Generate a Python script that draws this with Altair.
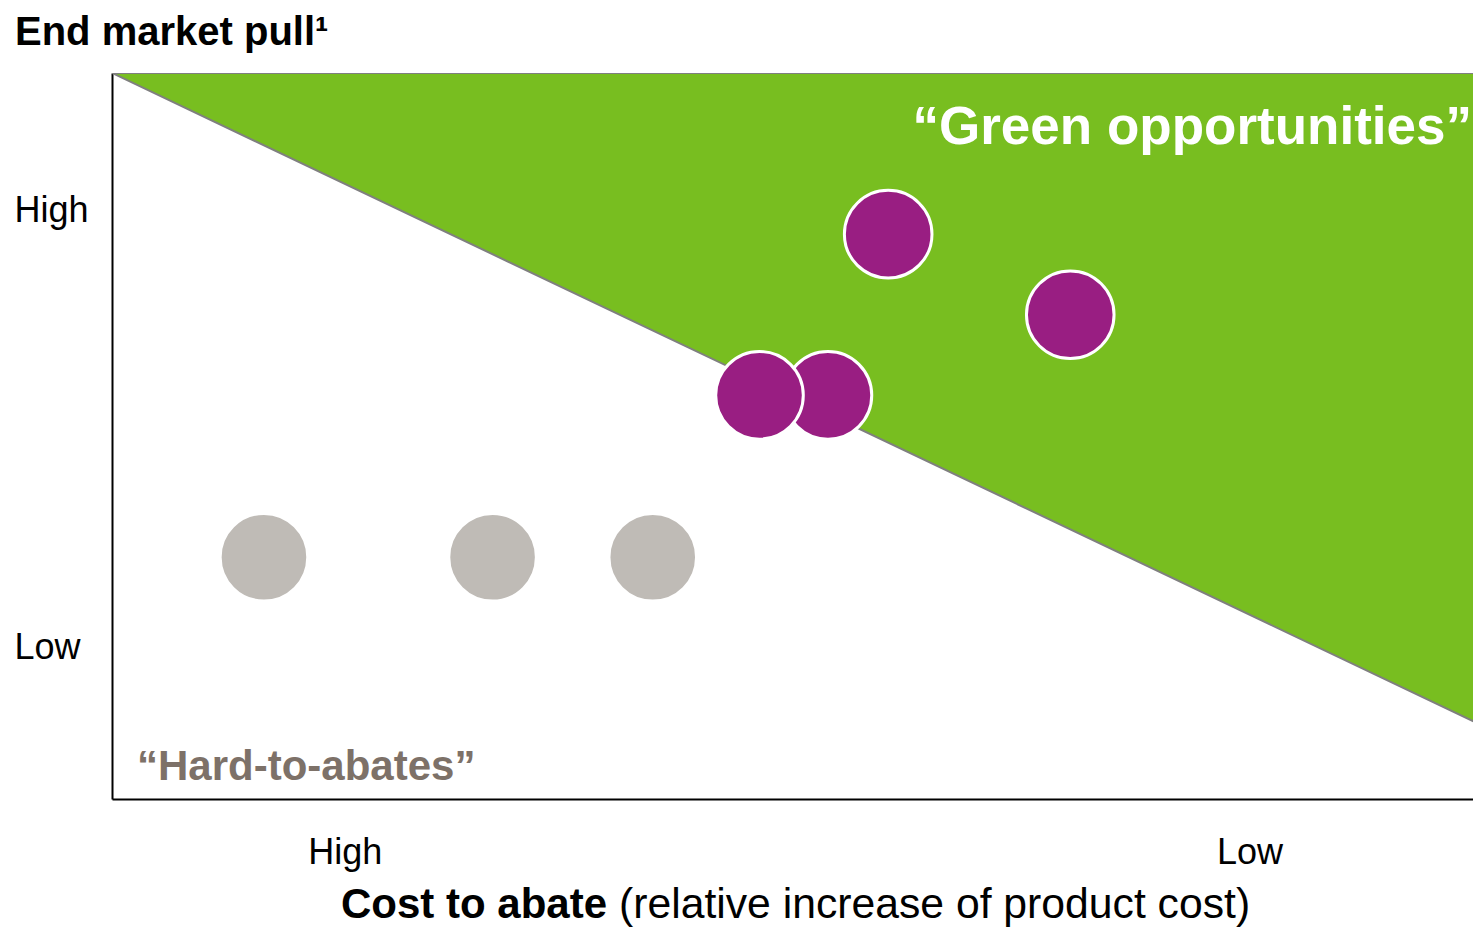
import altair as alt
import pandas as pd

# ---- data ----
point_x = [11.1, 27.8, 39.5, 56.7, 70.0, 52.3, 47.3]
point_y = [33.3, 33.3, 33.3, 77.8, 66.7, 55.6, 55.6]
point_group = ["hard", "hard", "hard", "green", "green", "green", "green"]

boundary_x = [0, 100]
boundary_y = [100, 10.2]

x_tick_values = [17.0, 83.1]
x_tick_labels = ["High", "Low"]
y_tick_values = [20.8, 81.1]
y_tick_labels = ["Low", "High"]

title_text = ["End market pull\u00b9"]
xtitle_bold = ["Cost to abate"]
xtitle_regular = ["(relative increase of product cost)"]
green_label = ["\u201cGreen opportunities\u201d"]
hard_label = ["\u201cHard-to-abates\u201d"]

FONT = "Liberation Sans"
GREEN = "#78BE20"
PURPLE = "#991E82"
GREY = "#BFBBB6"
TAUPE = "#7D7168"

pts = pd.DataFrame({"x": point_x, "y": point_y, "g": point_group})
bnd = pd.DataFrame({"x": boundary_x, "y": boundary_y, "top": [100, 100]})

xscale = alt.Scale(domain=[0, 99.42], nice=False, zero=False)
yscale = alt.Scale(domain=[0, 100], nice=False, zero=False)

def lab_expr(vals, labs):
    parts = []
    for v, l in zip(vals, labs):
        parts.append(f"abs(datum.value - {v}) < 0.01 ? '{l}'")
    return " : ".join(parts) + " : ''"

xaxis = alt.Axis(values=x_tick_values, labelExpr=lab_expr(x_tick_values, x_tick_labels),
                 title=None, grid=False, ticks=False, tickSize=0, domain=True,
                 domainColor="#000000", domainWidth=2, labelFontSize=36, labelFont=FONT,
                 labelColor="#000000", labelPadding=36, labelAngle=0, labelFlush=False)
yaxis = alt.Axis(values=y_tick_values, labelExpr=lab_expr(y_tick_values, y_tick_labels),
                 title=None, grid=False, ticks=False, tickSize=0, domain=True,
                 domainColor="#000000", domainWidth=2, labelFontSize=36, labelFont=FONT,
                 labelColor="#000000", labelPadding=98, labelAlign="left",
                 labelBaseline="middle", labelFlush=False)

area = alt.Chart(bnd).mark_area(color=GREEN, stroke="#7F7F7F", strokeWidth=2, opacity=1,
                                clip=True).encode(
    x=alt.X("x:Q", scale=xscale, axis=xaxis),
    y=alt.Y("y:Q", scale=yscale, axis=yaxis),
    y2="top:Q",
)

points = alt.Chart(pts).mark_circle(size=7670, opacity=1, stroke="white", strokeWidth=3).encode(
    x=alt.X("x:Q", scale=xscale),
    y=alt.Y("y:Q", scale=yscale),
    color=alt.Color("g:N", scale=alt.Scale(domain=["hard", "green"], range=[GREY, PURPLE]), legend=None),
)

def text_layer(txt, **kw):
    df = pd.DataFrame({"t": txt})
    pos = {k: kw.pop(k) for k in ["px", "py"]}
    return alt.Chart(df).mark_text(font=FONT, **kw).encode(
        text="t:N", x=alt.value(pos["px"]), y=alt.value(pos["py"]))

title = text_layer(title_text, px=-97, py=-28, fontSize=40, fontWeight="bold",
                   align="left", baseline="alphabetic", color="#000000")
xt_bold = text_layer(xtitle_bold, px=495, py=845, fontSize=42, fontWeight="bold",
                     align="right", baseline="alphabetic", color="#000000")
xt_reg = text_layer(xtitle_regular, px=507, py=845, fontSize=42.7,
                    align="left", baseline="alphabetic", color="#000000")
green_t = text_layer(green_label, px=1360, py=71, fontSize=53, fontWeight="bold",
                     align="right", baseline="alphabetic", color="#FFFFFF")
hard_t = text_layer(hard_label, px=25, py=707, fontSize=42, fontWeight="bold",
                    align="left", baseline="alphabetic", color=TAUPE)

chart = alt.layer(area, points, title, xt_bold, xt_reg, green_t, hard_t).properties(
    width=1361, height=726,
    autosize=alt.AutoSizeParams(type="none"),
    padding={"left": 104, "top": 65, "right": 0, "bottom": 130},
).configure_view(stroke=None)

chart.save("out.html", embed_options={"renderer": "svg", "actions": False})
